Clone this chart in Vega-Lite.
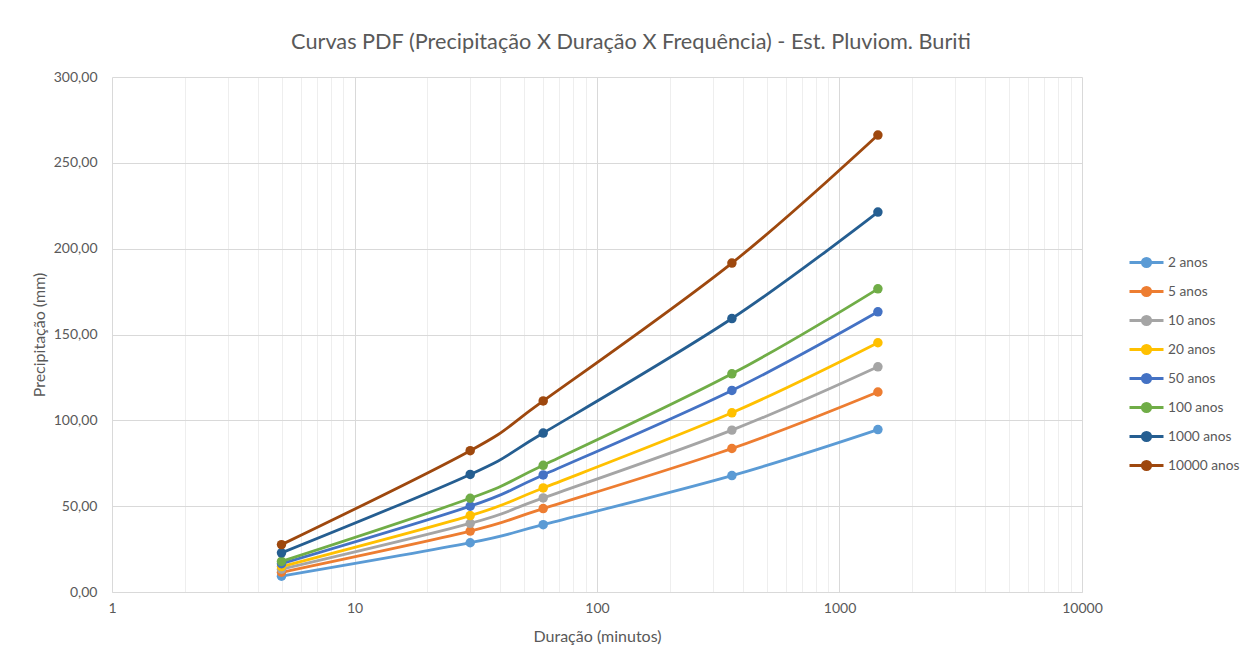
{
  "$schema": "https://vega.github.io/schema/vega-lite/v6.json",
  "width": 970,
  "height": 515,
  "autosize": {"type": "none"},
  "padding": {"left": 112, "top": 77, "right": 159, "bottom": 70},
  "background": "white",
  "config": {
    "view": {"stroke": null},
    "font": "Lato",
    "axis": {"labelFont": "Lato", "titleFont": "Lato", "labelColor": "#595959", "titleColor": "#595959", "titleFontWeight": "normal"},
    "legend": {"labelFont": "Lato"}
  },
  "title": {
    "text": "Curvas PDF (Precipitação X Duração X Frequência) - Est. Pluviom. Buriti",
    "font": "Lato",
    "fontSize": 21.7,
    "fontWeight": "normal",
    "color": "#595959",
    "anchor": "middle",
    "dx": 34,
    "offset": 16
  },
  "data": {
    "values": [
      {"serie": "2 anos", "duracao": 5, "precip": 9.2},
      {"serie": "2 anos", "duracao": 30, "precip": 28.7},
      {"serie": "2 anos", "duracao": 60, "precip": 39.2},
      {"serie": "2 anos", "duracao": 360, "precip": 67.8},
      {"serie": "2 anos", "duracao": 1440, "precip": 94.6},
      {"serie": "5 anos", "duracao": 5, "precip": 11.5},
      {"serie": "5 anos", "duracao": 30, "precip": 35.5},
      {"serie": "5 anos", "duracao": 60, "precip": 48.6},
      {"serie": "5 anos", "duracao": 360, "precip": 83.6},
      {"serie": "5 anos", "duracao": 1440, "precip": 116.5},
      {"serie": "10 anos", "duracao": 5, "precip": 13.3},
      {"serie": "10 anos", "duracao": 30, "precip": 40.0},
      {"serie": "10 anos", "duracao": 60, "precip": 54.8},
      {"serie": "10 anos", "duracao": 360, "precip": 94.3},
      {"serie": "10 anos", "duracao": 1440, "precip": 131.2},
      {"serie": "20 anos", "duracao": 5, "precip": 14.8},
      {"serie": "20 anos", "duracao": 30, "precip": 44.5},
      {"serie": "20 anos", "duracao": 60, "precip": 60.6},
      {"serie": "20 anos", "duracao": 360, "precip": 104.4},
      {"serie": "20 anos", "duracao": 1440, "precip": 145.2},
      {"serie": "50 anos", "duracao": 5, "precip": 16.5},
      {"serie": "50 anos", "duracao": 30, "precip": 50.0},
      {"serie": "50 anos", "duracao": 60, "precip": 68.2},
      {"serie": "50 anos", "duracao": 360, "precip": 117.4},
      {"serie": "50 anos", "duracao": 1440, "precip": 163.2},
      {"serie": "100 anos", "duracao": 5, "precip": 17.8},
      {"serie": "100 anos", "duracao": 30, "precip": 54.6},
      {"serie": "100 anos", "duracao": 60, "precip": 73.8},
      {"serie": "100 anos", "duracao": 360, "precip": 127.1},
      {"serie": "100 anos", "duracao": 1440, "precip": 176.6},
      {"serie": "1000 anos", "duracao": 5, "precip": 22.8},
      {"serie": "1000 anos", "duracao": 30, "precip": 68.5},
      {"serie": "1000 anos", "duracao": 60, "precip": 92.6},
      {"serie": "1000 anos", "duracao": 360, "precip": 159.3},
      {"serie": "1000 anos", "duracao": 1440, "precip": 221.3},
      {"serie": "10000 anos", "duracao": 5, "precip": 27.6},
      {"serie": "10000 anos", "duracao": 30, "precip": 82.3},
      {"serie": "10000 anos", "duracao": 60, "precip": 111.3},
      {"serie": "10000 anos", "duracao": 360, "precip": 191.6},
      {"serie": "10000 anos", "duracao": 1440, "precip": 266.2}
    ]
  },
  "encoding": {
    "x": {
      "field": "duracao",
      "type": "quantitative",
      "scale": {"type": "log", "domain": [1, 10000], "nice": false},
      "axis": {
        "title": "Duração (minutos)",
        "titleFontSize": 16,
        "titlePadding": 13,
        "values": [1,2,3,4,5,6,7,8,9,10,20,30,40,50,60,70,80,90,100,200,300,400,500,600,700,800,900,1000,2000,3000,4000,5000,6000,7000,8000,9000,10000],
        "labelExpr": "abs(log(datum.value)/LN10 - round(log(datum.value)/LN10)) < 0.001 ? format(datum.value, 'd') : ''",
        "labelFontSize": 14,
        "labelPadding": 9,
        "labelOverlap": false,
        "labelFlush": false,
        "labelBound": false,
        "ticks": false,
        "domainColor": "#d9d9d9",
        "domainWidth": 1,
        "grid": true,
        "gridColor": {"condition": {"test": "abs(log(datum.value)/LN10 - round(log(datum.value)/LN10)) < 0.001", "value": "#d9d9d9"}, "value": "#eeeeee"},
        "gridWidth": 1
      }
    },
    "y": {
      "field": "precip",
      "type": "quantitative",
      "scale": {"domain": [0, 300], "nice": false},
      "axis": {
        "title": "Precipitação (mm)",
        "titleFontSize": 16,
        "titlePadding": 6,
        "values": [0, 50, 100, 150, 200, 250, 300],
        "labelExpr": "replace(format(datum.value, '.2f'), '.', ',')",
        "labelFontSize": 14,
        "labelPadding": 15,
        "ticks": false,
        "domain": false,
        "grid": true,
        "gridColor": "#d9d9d9"
      }
    },
    "color": {
      "field": "serie",
      "type": "nominal",
      "scale": {
        "domain": ["2 anos", "5 anos", "10 anos", "20 anos", "50 anos", "100 anos", "1000 anos", "10000 anos"],
        "range": ["#5B9BD5", "#ED7D31", "#A5A5A5", "#FFC000", "#4472C4", "#70AD47", "#255E91", "#9E480E"]
      },
      "legend": {
        "title": null,
        "orient": "none",
        "legendX": 1016,
        "legendY": 167,
        "padding": 0,
        "symbolType": "M-1,0H1M-0.24,0A0.24,0.24 0 1,0 0.24,0A0.24,0.24 0 1,0 -0.24,0",
        "symbolSize": 1156,
        "symbolStrokeWidth": 3,
        "labelFontSize": 13.7,
        "labelColor": "#595959",
        "labelOffset": 3,
        "rowPadding": -5.5
      }
    }
  },
  "layer": [
    {
      "mark": {"type": "line", "interpolate": "cardinal", "strokeWidth": 2.8}
    },
    {
      "mark": {"type": "point", "shape": "circle", "filled": true, "size": 90, "opacity": 1}
    }
  ]
}
